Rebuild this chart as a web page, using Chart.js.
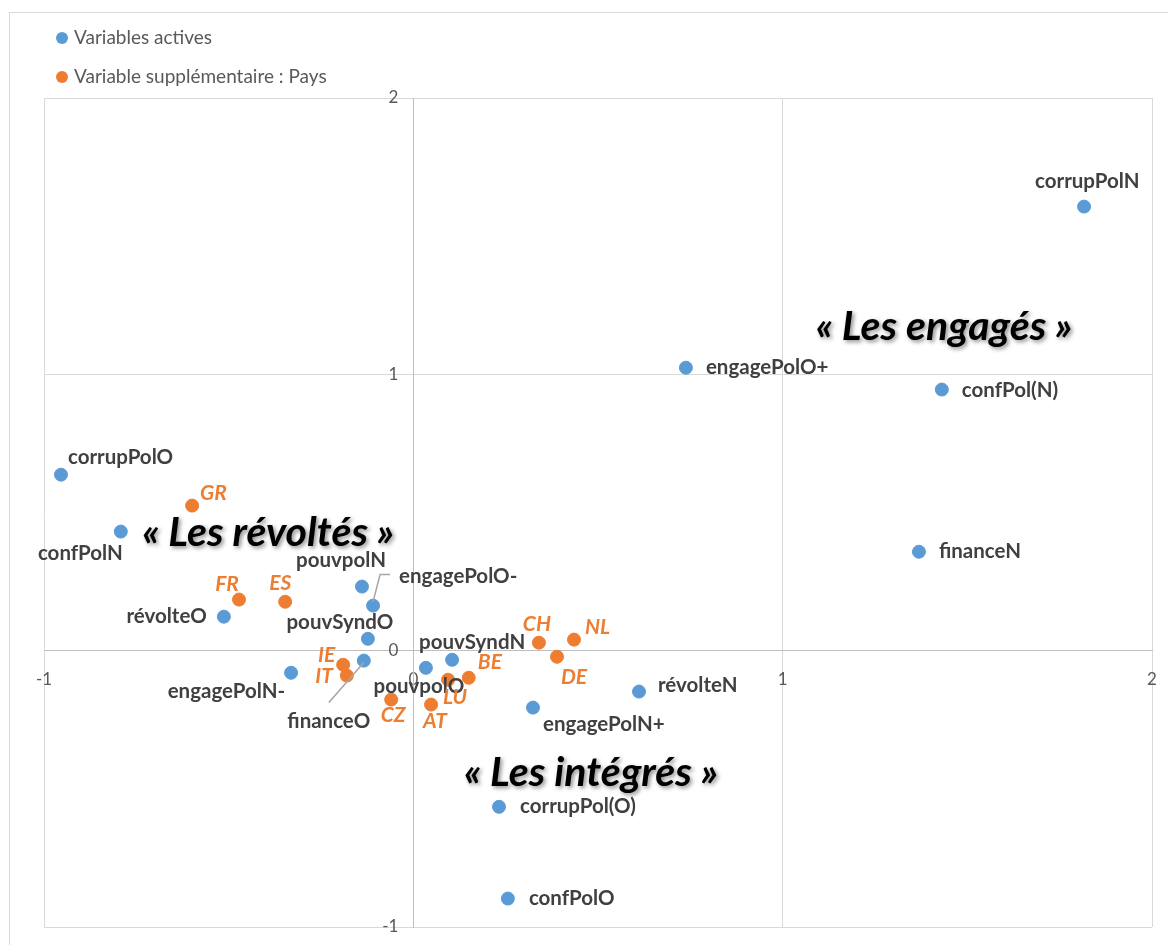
<!DOCTYPE html>
<html>
<head>
<meta charset="utf-8">
<script src="https://cdn.jsdelivr.net/npm/chart.js@4.4.0/dist/chart.umd.min.js"></script>
<style>
  html, body { margin: 0; padding: 0; background: #fff; }
  #wrap { width: 1168px; height: 945px; }
</style>
</head>
<body>
<div id="wrap"><canvas id="acm"></canvas></div>
<script>
// Variables actives (ACM, axes 1 et 2)
const activeNames = ['corrupPolN', 'engagePolO+', 'confPol(N)', 'financeN', 'corrupPolO', 'confPolN',
  'révolteO', 'pouvpolN', 'engagePolO-', 'pouvSyndO', 'engagePolN-', 'financeO', 'pouvpolO',
  'pouvSyndN', 'révolteN', 'engagePolN+', 'corrupPol(O)', 'confPolO'];
const activeX = [1.816, 0.738, 1.431, 1.369, -0.954, -0.792, -0.513, -0.139, -0.109, -0.123, -0.331,
  -0.134, 0.034, 0.105, 0.611, 0.324, 0.232, 0.256];
const activeY = [1.607, 1.024, 0.945, 0.358, 0.637, 0.431, 0.123, 0.232, 0.163, 0.043, -0.080,
  -0.036, -0.062, -0.033, -0.148, -0.206, -0.565, -0.897];

// Variable supplémentaire : pays
const countryNames = ['GR', 'FR', 'ES', 'IE', 'IT', 'CZ', 'LU', 'AT', 'BE', 'CH', 'NL', 'DE'];
const countryX = [-0.599, -0.472, -0.347, -0.190, -0.180, -0.060, 0.094, 0.048, 0.150, 0.340, 0.435, 0.389];
const countryY = [0.525, 0.185, 0.177, -0.051, -0.090, -0.177, -0.105, -0.195, -0.098, 0.029, 0.040, -0.022];

// axis ticks
const axisMin = -1;
const axisMax = 2;

// group captions, placed in data units
const groupNames = ['« Les révoltés »', '« Les engagés »', '« Les intégrés »'];
const groupX = [-0.393, 1.437, 0.481];
const groupY = [0.427, 1.172, -0.441];

// label placement relative to each point: [dx, dy, textAlign]
const activeLabelPos = [
  [-49, -25, 'left'], [20, 0, 'left'], [20, 1, 'left'], [20, 0, 'left'],
  [7, -17, 'left'], [2, 22, 'right'], [-17, 0, 'right'], [-21, -26, 'center'],
  [26, -29, 'left'], [-28, -16, 'center'], [-6, 19, 'right'], [-35, 61, 'center'],
  [-7, 19, 'center'], [20, -17, 'center'], [19, -6, 'left'], [10, 17, 'left'],
  [21, 0, 'left'], [21, 0, 'left']
];
const countryLabelPos = [
  [8, -12, 'left'], [-12, -15, 'center'], [-5, -19, 'center'], [-8, -10, 'right'],
  [-14, 1, 'right'], [2, 16, 'center'], [7, 18, 'center'], [4, 17, 'center'],
  [9, -16, 'left'], [-2, -18, 'center'], [11, -12, 'left'], [17, 20, 'center']
];
// leader lines (index in active list -> polyline relative to point)
const leaders = {
  8: [[0, -4], [7, -31], [17, -31]],
  11: [[0, 2], [-35, 42]]
};

const BLUE = '#5B9BD5';
const ORANGE = '#ED7D31';
const FONT = "Lato, 'Open Sans', sans-serif";

const toPoints = (xs, ys) => xs.map((x, i) => ({ x: x, y: ys[i] }));

const labelPlugin = {
  id: 'acmLabels',
  beforeDraw(chart) {
    const ctx = chart.ctx;
    ctx.save();
    ctx.strokeStyle = '#d9d9d9';
    ctx.lineWidth = 1;
    ctx.strokeRect(9.5, 12.5, chart.width + 10, chart.height);
    ctx.restore();
  },
  afterDatasetsDraw(chart) {
    const ctx = chart.ctx;
    const xs = chart.scales.x, ys = chart.scales.y;
    ctx.save();

    // leader lines
    const metaA = chart.getDatasetMeta(0);
    ctx.strokeStyle = '#a6a6a6';
    ctx.lineWidth = 1.5;
    Object.keys(leaders).forEach(k => {
      const p = metaA.data[k];
      ctx.beginPath();
      leaders[k].forEach((o, j) => {
        if (j === 0) ctx.moveTo(p.x + o[0], p.y + o[1]);
        else ctx.lineTo(p.x + o[0], p.y + o[1]);
      });
      ctx.stroke();
    });

    ctx.textBaseline = 'middle';
    // active variable labels
    ctx.font = 'bold 20.5px ' + FONT;
    ctx.fillStyle = '#404040';
    metaA.data.forEach((p, i) => {
      const pos = activeLabelPos[i];
      ctx.textAlign = pos[2];
      ctx.fillText(activeNames[i], p.x + pos[0], p.y + pos[1]);
    });
    // country labels
    const metaC = chart.getDatasetMeta(1);
    ctx.font = 'italic bold 21px ' + FONT;
    ctx.fillStyle = ORANGE;
    metaC.data.forEach((p, i) => {
      const pos = countryLabelPos[i];
      ctx.textAlign = pos[2];
      ctx.fillText(countryNames[i], p.x + pos[0], p.y + pos[1]);
    });

    // group captions with shadow
    ctx.font = 'italic bold 41px ' + FONT;
    ctx.fillStyle = '#000';
    ctx.textAlign = 'center';
    ctx.shadowColor = 'rgba(0,0,0,0.45)';
    ctx.shadowBlur = 4;
    ctx.shadowOffsetX = 2;
    ctx.shadowOffsetY = 2;
    groupNames.forEach((t, i) => {
      ctx.fillText(t, xs.getPixelForValue(groupX[i]), ys.getPixelForValue(groupY[i]));
    });
    ctx.restore();

    // legend
    ctx.save();
    ctx.font = '19px ' + FONT;
    ctx.textAlign = 'left';
    ctx.textBaseline = 'middle';
    chart.data.datasets.forEach((ds, i) => {
      const y = 38 + i * 39;
      ctx.fillStyle = ds.backgroundColor;
      ctx.beginPath();
      ctx.arc(62, y, 6, 0, Math.PI * 2);
      ctx.fill();
      ctx.fillStyle = '#595959';
      ctx.fillText(ds.label, 74, y);
    });
    ctx.restore();
  }
};

const noPad = s => {
  s.paddingLeft = 0;
  s.paddingRight = 0;
  s.paddingTop = 0;
  s.paddingBottom = 0;
};

new Chart(document.getElementById('acm'), {
  type: 'scatter',
  data: {
    datasets: [
      {
        label: 'Variables actives',
        data: toPoints(activeX, activeY),
        backgroundColor: BLUE,
        borderColor: BLUE,
        pointRadius: 6.5,
        pointHoverRadius: 6.5
      },
      {
        label: 'Variable supplémentaire : Pays',
        data: toPoints(countryX, countryY),
        backgroundColor: ORANGE,
        borderColor: ORANGE,
        pointRadius: 6.5,
        pointHoverRadius: 6.5
      }
    ]
  },
  options: {
    responsive: true,
    maintainAspectRatio: false,
    animation: false,
    layout: { padding: { left: 44, right: 16, top: 98, bottom: 18 } },
    plugins: {
      legend: { display: false },
      tooltip: { enabled: false }
    },
    scales: {
      x: {
        type: 'linear',
        min: axisMin,
        max: axisMax,
        position: { y: 0 },
        afterFit: s => { s.height = 0; noPad(s); },
        ticks: {
          stepSize: 1,
          color: '#595959',
          font: { family: FONT, size: 17 },
          padding: 19
        },
        grid: { color: '#d9d9d9', drawTicks: false },
        border: { color: '#bfbfbf' }
      },
      y: {
        type: 'linear',
        min: axisMin,
        max: axisMax,
        position: { x: 0 },
        afterFit: s => { s.width = 0; noPad(s); },
        ticks: {
          stepSize: 1,
          color: '#595959',
          font: { family: FONT, size: 17 },
          // centred axis ignores padding, so push the label off the line
          callback: v => v + '\u2003\u2009'
        },
        grid: { color: '#d9d9d9', drawTicks: false },
        border: { color: '#bfbfbf' }
      }
    }
  },
  plugins: [labelPlugin]
});
</script>
</body>
</html>
